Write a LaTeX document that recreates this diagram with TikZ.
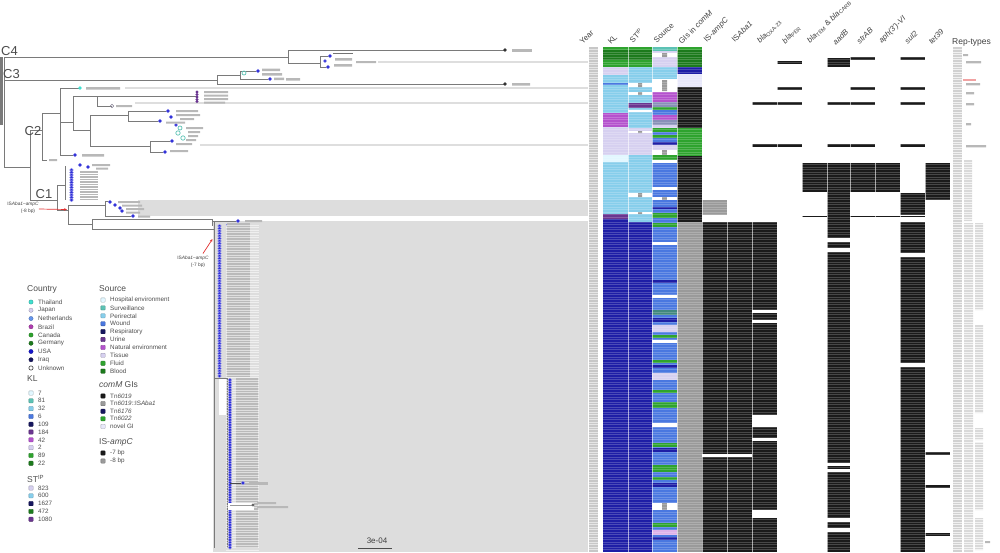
\documentclass[tikz,border=0pt]{standalone}
\usepackage{fontspec}
\setmainfont{Liberation Sans}
\usetikzlibrary{arrows.meta}
\definecolor{treeg}{HTML}{7A7A7A}
\definecolor{shadec}{HTML}{DDDDDD}
\definecolor{cgreen}{HTML}{2EA32E}
\definecolor{dgreen}{HTML}{1C7A1C}
\definecolor{lav}{HTML}{D6D0F0}
\definecolor{sky}{HTML}{87CEEB}
\definecolor{royal}{HTML}{4A78E0}
\definecolor{corn}{HTML}{6495ED}
\definecolor{navy}{HTML}{1E1EA6}
\definecolor{dnavy}{HTML}{16165E}
\definecolor{purp}{HTML}{6A3590}
\definecolor{orch}{HTML}{B452CD}
\definecolor{brz}{HTML}{B03CB0}
\definecolor{usa}{HTML}{1515CC}
\definecolor{tealc}{HTML}{5CC2B4}
\definecolor{turq}{HTML}{40E0D0}
\definecolor{giG}{HTML}{9A9A9A}
\definecolor{blk}{HTML}{1A1A1A}
\definecolor{pale}{HTML}{E2F7FF}
\definecolor{novel}{HTML}{E8E8FA}
\definecolor{gblue}{HTML}{8890B8}
\definecolor{dotb}{HTML}{2B2BD8}
\definecolor{redc}{HTML}{E03030}
\newcommand\cellc[5]{\fill[#3] (#1,#4) rectangle (#2,#5);}
\newcommand\cKL{\cellc{603}{628}}
\newcommand\cSTp{\cellc{628}{652}}
\newcommand\cSR{\cellc{652}{677}}
\newcommand\cGI{\cellc{677}{702}}
\newcommand\cIC{\cellc{702}{727}}
\newcommand\cIA{\cellc{727}{752}}
\newcommand\cBa{\cellc{752}{777}}
\newcommand\cBb{\cellc{777}{802}}
\newcommand\cBc{\cellc{802}{827}}
\newcommand\cAD{\cellc{827}{850}}
\newcommand\cSA{\cellc{850}{875}}
\newcommand\cAP{\cellc{875}{900}}
\newcommand\cSU{\cellc{900}{925}}
\newcommand\cTE{\cellc{925}{950}}
\begin{document}
\begin{tikzpicture}[x=1pt,y=-1pt,
  tree/.style={draw=treeg,line width=0.9pt},
  aln/.style={draw=black!13,line width=1.3pt},
  nm/.style={fill=black!28},
  hdr/.style={rotate=45,anchor=south west,inner sep=0pt,font=\fontsize{7.8}{9}\selectfont,text=black!75},
  clade/.style={font=\fontsize{13}{14}\selectfont,text=black!70,inner sep=0pt},
  lgt/.style={font=\fontsize{8.5}{9}\selectfont,text=black!70,anchor=west,inner sep=0pt},
  lgi/.style={font=\fontsize{6.3}{7}\selectfont,text=black!70,anchor=west,inner sep=0pt},
  mk/.style={fill=#1,draw=#1!70!black,line width=.3pt,minimum size=4.3pt,inner sep=0pt},
  ann/.style={font=\fontsize{4.8}{5.5}\selectfont,text=black!75,inner sep=0pt},
]
\useasboundingbox (0,0) rectangle (1000,552);

% ---------- shaded clades ----------
\fill[shadec] (138,200) rectangle (588,216);
\fill[shadec] (213,221) rectangle (588,552);

% ---------- alignment lines ----------
\draw[aln] (378,62) -- (588,62);
\draw[aln] (125,88) -- (588,88);
\draw[aln] (135,103) -- (588,103);
\draw[aln] (200,145) -- (588,145);

% ---------- tree ----------
\draw[treeg,line width=2.6pt] (1.6,57) -- (1.6,125);
\draw[tree] (4,57) -- (4,167);
% C4
\draw[tree] (4,57) -- (288,57) (288,50) -- (288,63) (288,50) -- (505,50)
  (288,63) -- (320,63) (320,56) -- (320,67) (320,56) -- (330,56) (320,67) -- (328,67);
\fill[black!80] (505,50) circle (1.8);
\filldraw[fill=dotb,draw=dotb!50!white,line width=.3pt] (330,56) circle (1.8) (328,67) circle (1.8) (325,61) circle (1.6);
\fill[nm] (512,49) rectangle (532,51.5);
\fill[black!55] (333,52.5) rectangle (353,54);
\fill[nm] (335,58) rectangle (352,60.5) (334,64) rectangle (352,66.5) (356,61) rectangle (376,63.2);
% C3
\draw[tree] (4,80) -- (217,80) (217,75) -- (217,84) (217,84) -- (505,84)
  (217,75) -- (240,75) (240,71) -- (240,79) (240,71) -- (258,71) (240,79) -- (270,79);
\fill[black!80] (505,84) circle (1.8);
\filldraw[fill=dotb,draw=dotb!50!white,line width=.3pt] (258,71) circle (1.8) (270,79) circle (1.8);
\draw[tealc,line width=.7pt] (244,73) circle (2);
\fill[nm] (262,68.5) rectangle (280,71) (262,73) rectangle (282,75.5) (274,77.5) rectangle (284,80) (286,78) rectangle (300,80.5) (512,83) rectangle (530,85.5);
% C2
\draw[tree] (4,167) -- (30,167) (30,130) -- (30,200)
  (30,130) -- (42,130) (42,113) -- (42,160) (42,160) -- (47,160)
  (42,113) -- (60,113) (60,88) -- (60,155) (60,88) -- (80,88) (60,155) -- (75,155)
  (60,122) -- (73,122) (73,96) -- (73,130) (73,96) -- (97,96) (97,96) -- (97,106)
  (97,96) -- (197,96) (97,106) -- (112,106)
  (73,130) -- (90,130) (90,115) -- (90,146) (90,115) -- (128,115) (128,111) -- (128,121)
  (128,111) -- (168,111) (128,121) -- (160,121)
  (90,146) -- (150,146) (150,141) -- (150,152) (150,141) -- (172,141) (150,152) -- (165,152);
\fill[turq] (80,88) circle (1.9);
\filldraw[fill=dotb,draw=dotb!50!white,line width=.3pt] (75,155) circle (1.9) (168,111) circle (1.8)
  (160,121) circle (1.8) (171,117) circle (1.8) (172,141) circle (1.8) (165,152) circle (1.8) (176,125) circle (1.7);
\foreach \yy in {92,94.5,97,99.5,101.5} \fill[purp] (197,\yy) circle (1.6);
\draw[lav!60!black,line width=.6pt] (112,106) circle (1.8);
\draw[tealc,line width=.7pt] (178,133) circle (2.2) (183,138) circle (2.2) (180,128) circle (2);
\fill[nm] (204,91) rectangle (228,93) (204,94.5) rectangle (228,96.5) (204,98) rectangle (228,100) (204,101.5) rectangle (225,103.5)
  (116,105) rectangle (132,107) (176,110) rectangle (198,112) (176,114) rectangle (200,116) (180,118) rectangle (194,120) (166,121.5) rectangle (185,123.5)
  (186,127) rectangle (203,129) (188,131) rectangle (200,133) (188,135) rectangle (198,137) (186,139) rectangle (196,141) (176,143) rectangle (192,145) (170,150) rectangle (188,152)
  (86,87) rectangle (120,89.5) (82,154) rectangle (104,156.5) (49,159) rectangle (57,161);
% C1
\draw[tree] (30,200) -- (57,200) (57,185) -- (57,210) (57,185) -- (65,185) (65,166) -- (65,200)
  (57,210) -- (68,210) (68,205) -- (68,224) (68,205) -- (105,205) (105,201) -- (105,216)
  (105,201) -- (110,201) (105,216) -- (133,216)
  (68,224) -- (92,224) (92,219) -- (92,229) (92,219) -- (212,219) (212,219) -- (212,226) (212,221) -- (238,221)
  (92,229) -- (214,229) (214,222) -- (214,548);
\foreach \yy in {170,172.5,...,200} \filldraw[fill=dotb,draw=dotb!50!white,line width=.3pt] (71.5,\yy) circle (1.8);
\filldraw[fill=dotb,draw=dotb!50!white,line width=.3pt] (80,165) circle (1.8) (88,167) circle (1.8)
  (110,202) circle (1.8) (115,205) circle (1.8) (120,208) circle (1.8) (122,211) circle (1.8) (133,216) circle (1.8)
  (238,221) circle (1.8) (228,225) circle (1.8) (229,228.5) circle (1.8) (230,232) circle (1.8);
\fill[nm] (92,164) rectangle (110,166) (96,167.5) rectangle (108,169.5);
\foreach \yy in {171,173.5,...,199} \fill[nm] (80,\yy) rectangle (98,\yy+1.6);
\fill[nm] (118,201) rectangle (140,203) (122,204.5) rectangle (142,206.5) (126,208) rectangle (144,210) (126,211.5) rectangle (140,213.5) (138,215.5) rectangle (150,217.5)
  (245,220) rectangle (262,222);
% big C1 clade
\fill[white] (219,379) rectangle (226,415);
\draw[tree] (214,378) -- (227,378) -- (227,548);
\fill[black!27] (227,223) rectangle (250,377);
\fill[black!27] (236,378) rectangle (258,548);
\foreach \yy in {225,227.5,...,551} \draw[white,opacity=.55,line width=.5pt] (226,\yy) -- (259,\yy);
\foreach \yy in {226,228.5,...,377} \filldraw[fill=dotb,draw=dotb!40!white,line width=.3pt] (219.5,\yy) circle (1.8);
\foreach \yy in {380,382.5,...,548} \filldraw[fill=dotb,draw=dotb!40!white,line width=.3pt] (230,\yy) circle (1.8);
\draw[black!70,line width=.8pt] (230,483) -- (243,483);
\filldraw[fill=dotb,draw=dotb!40!white,line width=.3pt] (243,483) circle (1.8);
\fill[nm] (249,482) rectangle (268,484.5);
\fill[white] (228,503) rectangle (254,510);
\draw[black!40,line width=.8pt] (230,505) -- (253,505);
\fill[black!60] (253,505) circle (1.6);
\fill[nm] (257,502) rectangle (276,504) (257,506) rectangle (288,508);

% clade labels
\node[clade] (lC4) at (9.5,51.5) {C4};
\node[clade] (lC3) at (11.5,74) {C3};
\node[clade] (lC2) at (33,131) {C2};
\node[clade] (lC1) at (44,194) {C1};

% ISAba1-ampC annotations
\node[ann] (a8a) at (23,204) {IS\textit{Aba1}--\textit{ampC}};
\node[ann] (a8b) at (28,211) {(-8 bp)};
\draw[redc,line width=.7pt,-{Stealth[length=3pt,width=2.5pt]}] (a8a.east |- 0,209) -- (67,209.5);
\node[ann] (a7a) at (193,258) {IS\textit{Aba1}--\textit{ampC}};
\node[ann] (a7b) at (198,265) {(-7 bp)};
\draw[redc,line width=.7pt,-{Stealth[length=3pt,width=2.5pt]}] (203,253.5) -- (212.5,239);

% scale bar
\node[font=\fontsize{8}{9}\selectfont,text=black!75,inner sep=0pt] (sb) at (377,541) {3e-04};
\draw[black!70,line width=1pt] (358,548) -- (392,548);

% ---------- heatmap ----------
% Year
\fill[black!22] (589,47) rectangle (598,552);
% KL
\cKL{cgreen}{47}{50}\cKL{dgreen}{50}{60}\cKL{cgreen}{60}{67}
\cKL{lav}{67}{75}\cKL{sky}{75}{113}\cKL{royal}{83}{85}
\cKL{orch}{113}{127}\cKL{lav}{127}{155}\cKL{pale}{155}{162}
\cKL{sky}{162}{214}\cKL{purp}{214}{219}\cKL{navy}{219}{552}
% ST
\cSTp{cgreen}{47}{50}\cSTp{dgreen}{50}{60}\cSTp{cgreen}{60}{67}
\cSTp{sky}{67}{128}\cSTp{white}{83}{87}\cSTp{white}{92}{95}\cSTp{purp}{103}{108}\cSTp{white}{110}{112}
\fill[giG] (638,83) rectangle (642,87) (638,92) rectangle (642,95);
\cSTp{lav}{128}{155}\cSTp{white}{131}{133}
\cSTp{sky}{155}{222}\cSTp{white}{193}{197}\cSTp{white}{212}{214}
\fill[giG] (638,193) rectangle (642,197) (638,212) rectangle (642,214) (638,131) rectangle (642,133);
\cSTp{navy}{222}{552}
% Source
\cSR{tealc}{47}{51}\cSR{lav}{51}{67}\cSR{white}{53}{57}\cSR{sky}{67}{79}\cSR{white}{79}{92}
\fill[giG] (662,53) rectangle (667,57) (662,80) rectangle (667,91);
\cSR{orch}{92}{102}\cSR{gblue}{102}{107}\cSR{cgreen}{107}{110}\cSR{royal}{110}{115}\cSR{orch}{115}{120}
\cSR{gblue}{120}{125}\cSR{lav}{125}{128}\cSR{cgreen}{128}{132}\cSR{royal}{132}{135}\cSR{cgreen}{135}{138}
\cSR{royal}{138}{142}\cSR{navy}{142}{145}\cSR{lav}{145}{150}\cSR{white}{150}{155}\cSR{cgreen}{155}{160}
\fill[giG] (662,150) rectangle (667,155);
\cSR{white}{160}{163}\cSR{royal}{163}{187}\cSR{white}{187}{190}\cSR{royal}{190}{197}\cSR{white}{197}{200}
\fill[giG] (662,197) rectangle (667,200);
\cSR{royal}{200}{207}\cSR{navy}{207}{209}\cSR{royal}{209}{213}\cSR{cgreen}{213}{218}\cSR{royal}{218}{552}
\cSR{cgreen}{223}{227}\cSR{white}{242}{245}\cSR{navy}{280}{283}\cSR{white}{295}{298}\cSR{tealc!70!black}{310}{315}
\cSR{navy}{318}{322}\cSR{lav}{325}{332}\cSR{cgreen}{335}{338}\cSR{white}{340}{343}\cSR{cgreen}{360}{363}
\cSR{navy}{365}{368}\cSR{lav}{373}{380}\cSR{cgreen}{390}{393}\cSR{cgreen}{402}{408}\cSR{white}{423}{427}
\cSR{cgreen}{443}{447}\cSR{navy}{448}{452}\cSR{cgreen}{465}{472}\cSR{cgreen}{477}{480}\cSR{navy}{483}{487}
\cSR{white}{503}{510}\cSR{cgreen}{523}{527}\cSR{orch!45}{530}{535}\cSR{navy}{537}{540}
\fill[giG] (662,503) rectangle (667,510);
% GIs in comM
\cGI{dgreen}{47}{67}\cGI{cgreen}{47}{50}\cGI{navy}{67}{74}\cGI{novel}{74}{87}
\cGI{blk}{87}{128}\cGI{cgreen}{128}{156}\cGI{blk}{156}{222}\cGI{giG}{222}{552}
% IS-ampC, ISAba1
\cIC{giG}{200}{215}\cIC{blk}{222}{552}\cIA{blk}{222}{552}
\fill[white] (702,454) rectangle (752,457);
% bla 1
\cBa{blk}{102}{104.5}\cBa{blk}{144}{146.5}\cBa{blk}{222}{552}
\cBa{white}{310}{313}\cBa{white}{320}{323}\cBa{white}{415}{427}\cBa{white}{438}{441}\cBa{white}{510}{518}
% bla 2
\cBb{blk}{61}{63.5}\cBb{blk}{87}{89.5}\cBb{blk}{102}{104.5}\cBb{blk}{144}{146.5}
% bla 3
\cBc{blk}{163}{192}
\fill[blk] (802,215.5) rectangle (925,217);
% aadB
\cAD{blk}{58}{67}\cAD{blk}{102}{104.5}\cAD{blk}{144}{146.5}\cAD{blk}{163}{552}
\cAD{white}{238}{242}\cAD{white}{248}{252}\cAD{white}{463}{466}\cAD{white}{468.5}{472}\cAD{white}{518}{522}\cAD{white}{528}{532}
% strAB
\cSA{blk}{57}{59.5}\cSA{blk}{87}{89.5}\cSA{blk}{102}{104.5}\cSA{blk}{144}{146.5}\cSA{blk}{163}{192}
% aph(3')-VI
\cAP{blk}{163}{192}
% sul2
\cSU{blk}{57}{59.5}\cSU{blk}{87}{89.5}\cSU{blk}{102}{104.5}\cSU{blk}{144}{146.5}\cSU{blk}{193}{215}\cSU{blk}{222}{552}
\cSU{white}{253}{257}\cSU{white}{363}{367}
% tet39
\cTE{blk}{163}{200}\cTE{blk}{452}{455}\cTE{blk}{485}{487.5}\cTE{blk}{533}{535.5}
% row and column texture
\foreach \yy in {49.5,52,...,552} {
  \draw[white,opacity=.55,line width=.4pt] (589,\yy) -- (598,\yy);
  \draw[white,opacity=.2,line width=.35pt] (603,\yy) -- (950,\yy);
}
\foreach \xx in {628,652,677,702,727,752,777,802,827,850,875,900,925}
  \draw[white,opacity=.6,line width=.6pt] (\xx,47) -- (\xx,552);

% ---------- Rep-types ----------
\fill[black!18] (953,47) rectangle (962,552);
\fill[black!15] (964,160) rectangle (972,221) (964,223) rectangle (973,552);
\fill[black!15] (975,223) rectangle (983,310) (975,325) rectangle (983,413) (975,428) rectangle (983,440)
  (975,442) rectangle (983,510) (975,518) rectangle (983,550);
\foreach \yy in {49.5,52,...,552} \draw[white,opacity=.7,line width=.45pt] (952,\yy) -- (984,\yy);
\fill[nm] (963,54) rectangle (968,56) (966,61) rectangle (981,63.3) (966,83) rectangle (980,85.3)
  (966,92) rectangle (974,94.3) (966,103) rectangle (974,105.3) (966,123) rectangle (971,125.3)
  (966,145) rectangle (986,147.3) (985,541) rectangle (990,543);
\fill[redc!45] (963,79) rectangle (976,81.3);

% ---------- column headers ----------
\node[hdr] (hY) at (583,45) {Year};
\node[hdr] (hKL) at (611,45) {KL};
\node[hdr] (hST) at (633,44) {ST\textsuperscript{IP}};
\node[hdr] (hSR) at (657,44) {Source};
\node[hdr] (hGI) at (682,45) {GIs in \textit{comM}};
\node[hdr] (hIC) at (708,44) {IS-\textit{ampC}};
\node[hdr] (hIA) at (735,43) {IS\textit{Aba1}};
\node[hdr] (hB1) at (761,45) {\textit{bla}\textsubscript{OXA-23}};
\node[hdr] (hB2) at (786,45) {\textit{bla}\textsubscript{PER}};
\node[hdr] (hB3) at (811,45) {\textit{bla}\textsubscript{TEM} \& \textit{bla}\textsubscript{CARB}};
\node[hdr] (hAD) at (836,46) {\textit{aadB}};
\node[hdr] (hSA) at (860,45) {\textit{strAB}};
\node[hdr] (hAP) at (883,45) {\textit{aph(3')-VI}};
\node[hdr] (hSU) at (908,45) {\textit{sul2}};
\node[hdr] (hTE) at (932,45) {\textit{tet39}};
\node[font=\fontsize{8.5}{9}\selectfont,text=black!75,anchor=west,inner sep=0pt] (hRT) at (952,42) {Rep-types};

% ---------- legend ----------
\node[lgt] (tCo) at (27,289) {Country};
\foreach \cc/\lab [count=\i from 0] in {turq/Thailand,lav/Japan,corn/Netherlands,brz/Brazil,cgreen/Canada,dgreen/Germany,usa/USA,dnavy/Iraq} {
  \node[mk=\cc,circle] (coM\i) at (31,{302+8.25*\i}) {};
  \node[lgi] (coT\i) at (38,{302+8.25*\i}) {\lab};
}
\node[circle,draw=black!75,fill=white,line width=.6pt,minimum size=4.3pt,inner sep=0pt] (coM8) at (31,368) {};
\node[lgi] (coT8) at (38,368) {Unknown};

\node[lgt] (tKL) at (27,379) {KL};
\foreach \cc/\lab [count=\i from 0] in {pale/7,tealc/81,sky/32,royal/6,dnavy/109,purp/184,orch/42,lav/2,cgreen/89,dgreen/22} {
  \node[mk=\cc,rectangle,rounded corners=.6pt] (klM\i) at (31,{393+7.8*\i}) {};
  \node[lgi] (klT\i) at (38,{393+7.8*\i}) {\lab};
}
\node[lgt] (tST) at (27,479) {ST\textsuperscript{IP}};
\foreach \cc/\lab [count=\i from 0] in {lav/823,sky/600,dnavy/1627,dgreen/472,purp/1080} {
  \node[mk=\cc,rectangle,rounded corners=.6pt] (stM\i) at (31,{488+7.8*\i}) {};
  \node[lgi] (stT\i) at (38,{488+7.8*\i}) {\lab};
}
\node[lgt] (tSR) at (99,289) {Source};
\foreach \cc/\lab [count=\i from 0] in {pale/Hospital environment,tealc/Surveillance,sky/Perirectal,royal/Wound,dnavy/Respiratory,purp/Urine,orch/Natural environment,lav/Tissue,cgreen/Fluid,dgreen/Blood} {
  \node[mk=\cc,rectangle,rounded corners=.6pt] (srM\i) at (103,{300+7.9*\i}) {};
  \node[lgi] (srT\i) at (110,{300+7.9*\i}) {\lab};
}
\node[lgt] (tGI) at (99,385) {\textit{comM} GIs};
\foreach \cc/\lab [count=\i from 0] in {blk/Tn\textit{6019},giG/Tn\textit{6019}::IS\textit{Aba1},dnavy/Tn\textit{6176},cgreen/Tn\textit{6022},novel/novel GI} {
  \node[mk=\cc,rectangle,rounded corners=.6pt] (giM\i) at (103,{396+7.6*\i}) {};
  \node[lgi] (giT\i) at (110,{396+7.6*\i}) {\lab};
}
\node[lgt] (tIC) at (99,442) {IS-\textit{ampC}};
\node[mk=blk,rectangle,rounded corners=.6pt] (icM0) at (103,453) {};
\node[lgi] (icT0) at (110,453) {-7 bp};
\node[mk=giG,rectangle,rounded corners=.6pt] (icM1) at (103,461) {};
\node[lgi] (icT1) at (110,461) {-8 bp};
\end{tikzpicture}
\end{document}
